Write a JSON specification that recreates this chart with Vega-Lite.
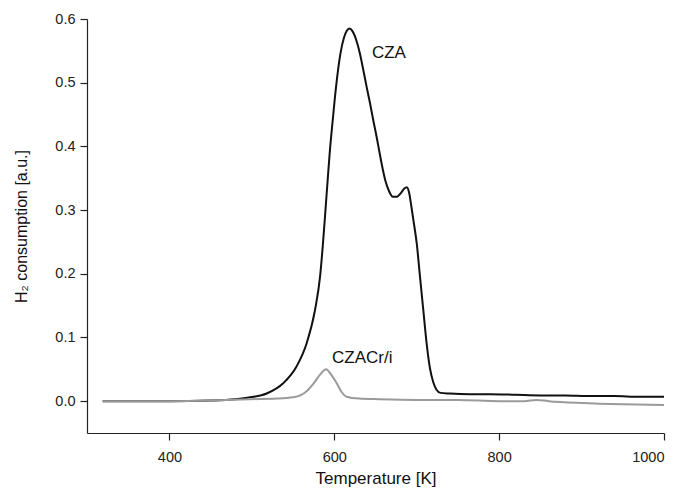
{
  "$schema": "https://vega.github.io/schema/vega-lite/v6.json",
  "width": 577,
  "height": 414,
  "autosize": {"type": "none"},
  "padding": {"left": 87, "top": 19, "right": 18, "bottom": 69},
  "background": "white",
  "config": {
    "view": {"stroke": null},
    "font": "Liberation Sans",
    "axis": {"grid": false, "domainColor": "#222", "tickColor": "#222", "labelColor": "#222", "titleColor": "#111", "labelFont": "Liberation Sans", "titleFont": "Liberation Sans", "labelFontSize": 14.5, "titleFontSize": 17, "titleFontWeight": "normal", "domainWidth": 1.2, "tickWidth": 1.2}
  },
  "datasets": {
    "curves": [
      {"T": 319, "v": 0.0, "s": "CZA"},
      {"T": 360, "v": 0.0, "s": "CZA"},
      {"T": 400, "v": 0.0, "s": "CZA"},
      {"T": 450, "v": 0.001, "s": "CZA"},
      {"T": 480, "v": 0.003, "s": "CZA"},
      {"T": 498, "v": 0.006, "s": "CZA"},
      {"T": 518, "v": 0.012, "s": "CZA"},
      {"T": 538, "v": 0.028, "s": "CZA"},
      {"T": 554, "v": 0.054, "s": "CZA"},
      {"T": 566.5, "v": 0.091, "s": "CZA"},
      {"T": 576.6, "v": 0.143, "s": "CZA"},
      {"T": 582.7, "v": 0.195, "s": "CZA"},
      {"T": 586.3, "v": 0.248, "s": "CZA"},
      {"T": 589.3, "v": 0.3, "s": "CZA"},
      {"T": 591.4, "v": 0.337, "s": "CZA"},
      {"T": 594.4, "v": 0.389, "s": "CZA"},
      {"T": 598.1, "v": 0.441, "s": "CZA"},
      {"T": 602.1, "v": 0.493, "s": "CZA"},
      {"T": 607.5, "v": 0.546, "s": "CZA"},
      {"T": 611.8, "v": 0.571, "s": "CZA"},
      {"T": 615, "v": 0.581, "s": "CZA"},
      {"T": 618.5, "v": 0.585, "s": "CZA"},
      {"T": 622, "v": 0.581, "s": "CZA"},
      {"T": 625, "v": 0.573, "s": "CZA"},
      {"T": 628, "v": 0.561, "s": "CZA"},
      {"T": 631.2, "v": 0.545, "s": "CZA"},
      {"T": 635.2, "v": 0.52, "s": "CZA"},
      {"T": 639.3, "v": 0.493, "s": "CZA"},
      {"T": 643.3, "v": 0.468, "s": "CZA"},
      {"T": 647.3, "v": 0.441, "s": "CZA"},
      {"T": 651.5, "v": 0.414, "s": "CZA"},
      {"T": 655.5, "v": 0.386, "s": "CZA"},
      {"T": 659, "v": 0.363, "s": "CZA"},
      {"T": 662, "v": 0.346, "s": "CZA"},
      {"T": 666, "v": 0.331, "s": "CZA"},
      {"T": 671, "v": 0.321, "s": "CZA"},
      {"T": 676, "v": 0.321, "s": "CZA"},
      {"T": 681, "v": 0.327, "s": "CZA"},
      {"T": 685, "v": 0.334, "s": "CZA"},
      {"T": 688, "v": 0.336, "s": "CZA"},
      {"T": 691, "v": 0.326, "s": "CZA"},
      {"T": 693, "v": 0.31, "s": "CZA"},
      {"T": 696, "v": 0.284, "s": "CZA"},
      {"T": 700, "v": 0.248, "s": "CZA"},
      {"T": 704, "v": 0.195, "s": "CZA"},
      {"T": 708, "v": 0.143, "s": "CZA"},
      {"T": 712, "v": 0.091, "s": "CZA"},
      {"T": 716, "v": 0.052, "s": "CZA"},
      {"T": 720, "v": 0.03, "s": "CZA"},
      {"T": 724, "v": 0.018, "s": "CZA"},
      {"T": 729, "v": 0.013, "s": "CZA"},
      {"T": 740, "v": 0.012, "s": "CZA"},
      {"T": 765, "v": 0.011, "s": "CZA"},
      {"T": 789, "v": 0.011, "s": "CZA"},
      {"T": 820, "v": 0.01, "s": "CZA"},
      {"T": 850, "v": 0.009, "s": "CZA"},
      {"T": 880, "v": 0.009, "s": "CZA"},
      {"T": 910, "v": 0.008, "s": "CZA"},
      {"T": 940, "v": 0.008, "s": "CZA"},
      {"T": 970, "v": 0.007, "s": "CZA"},
      {"T": 1000, "v": 0.007, "s": "CZA"},
      {"T": 319, "v": 0.0, "s": "CZACr/i"},
      {"T": 360, "v": 0.0, "s": "CZACr/i"},
      {"T": 400, "v": 0.0, "s": "CZACr/i"},
      {"T": 450, "v": 0.001, "s": "CZACr/i"},
      {"T": 498, "v": 0.003, "s": "CZACr/i"},
      {"T": 530, "v": 0.004, "s": "CZACr/i"},
      {"T": 550, "v": 0.006, "s": "CZACr/i"},
      {"T": 565, "v": 0.014, "s": "CZACr/i"},
      {"T": 575, "v": 0.028, "s": "CZACr/i"},
      {"T": 583, "v": 0.042, "s": "CZACr/i"},
      {"T": 590, "v": 0.05, "s": "CZACr/i"},
      {"T": 596, "v": 0.042, "s": "CZACr/i"},
      {"T": 603, "v": 0.028, "s": "CZACr/i"},
      {"T": 609, "v": 0.014, "s": "CZACr/i"},
      {"T": 615, "v": 0.007, "s": "CZACr/i"},
      {"T": 630, "v": 0.004, "s": "CZACr/i"},
      {"T": 655, "v": 0.003, "s": "CZACr/i"},
      {"T": 700, "v": 0.002, "s": "CZACr/i"},
      {"T": 750, "v": 0.002, "s": "CZACr/i"},
      {"T": 800, "v": 0.0, "s": "CZACr/i"},
      {"T": 830, "v": 0.0, "s": "CZACr/i"},
      {"T": 845, "v": 0.002, "s": "CZACr/i"},
      {"T": 860, "v": 0.0, "s": "CZACr/i"},
      {"T": 900, "v": -0.003, "s": "CZACr/i"},
      {"T": 950, "v": -0.005, "s": "CZACr/i"},
      {"T": 1000, "v": -0.006, "s": "CZACr/i"}
    ],
    "labels": [
      {"T": 645.7, "v": 0.546, "label": "CZA"},
      {"T": 597.2, "v": 0.0675, "label": "CZACr/i"}
    ]
  },
  "layer": [
    {
      "data": {"name": "curves"},
      "mark": {"type": "line", "strokeWidth": 2, "interpolate": "monotone"},
      "encoding": {
        "x": {"field": "T", "type": "quantitative", "scale": {"domain": [300, 1000], "nice": false, "zero": false}, "axis": {"title": "Temperature [K]", "values": [400, 600, 800, 1000], "format": "d", "tickSize": 7, "labelPadding": 10, "titlePadding": 7}},
        "y": {"field": "v", "type": "quantitative", "scale": {"domain": [-0.05, 0.6], "nice": false, "zero": false}, "axis": {"title": "H₂ consumption [a.u.]", "titleFontSize": 16, "values": [0, 0.1, 0.2, 0.3, 0.4, 0.5, 0.6], "format": ".1f", "tickSize": 7, "labelPadding": 5, "titlePadding": 25}},
        "color": {"field": "s", "type": "nominal", "scale": {"domain": ["CZA", "CZACr/i"], "range": ["#111111", "#9a9a9a"]}, "legend": null},
        "order": {"field": "T", "type": "quantitative"}
      }
    },
    {
      "data": {"name": "labels"},
      "mark": {"type": "text", "align": "left", "baseline": "middle", "fontSize": 17, "font": "Liberation Sans", "color": "#111"},
      "encoding": {
        "x": {"field": "T", "type": "quantitative"},
        "y": {"field": "v", "type": "quantitative"},
        "text": {"field": "label"}
      }
    }
  ]
}
